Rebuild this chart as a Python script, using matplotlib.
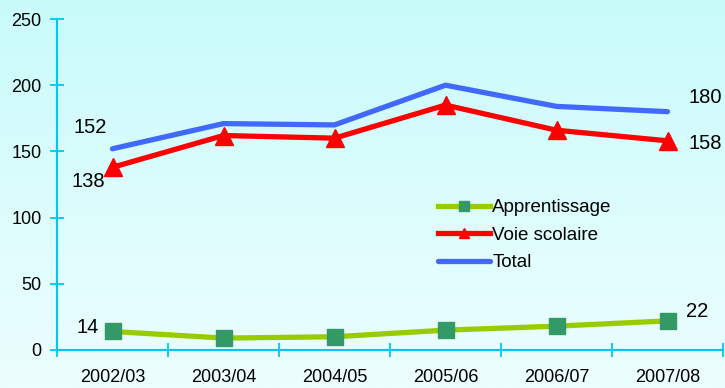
import numpy as np
import matplotlib.pyplot as plt
from matplotlib.colors import LinearSegmentedColormap

plt.rcParams['font.family'] = ['Liberation Sans', 'DejaVu Sans']

years = ['2002/03', '2003/04', '2004/05', '2005/06', '2006/07', '2007/08']
apprentissage = [14, 9, 10, 15, 18, 22]
voie_scolaire = [138, 162, 160, 185, 166, 158]
total = [152, 171, 170, 200, 184, 180]

axis_col = '#00c8f0'

fig = plt.figure(figsize=(7.25, 3.88), dpi=100)

# background gradient over whole figure
bg = fig.add_axes([0, 0, 1, 1], zorder=-10)
grad = LinearSegmentedColormap.from_list('bg', ['#c9fbfb', '#edfefe'])
bg.imshow(np.linspace(0, 1, 256).reshape(-1, 1), aspect='auto', cmap=grad,
          extent=[0, 1, 0, 1])
bg.set_axis_off()

ax = fig.add_axes([57 / 725, 38 / 388, 666 / 725, 331 / 388])
ax.patch.set_alpha(0)

x = np.arange(len(years))
ax.plot(x, total, color='#4169ff', lw=3.8, solid_capstyle='round', label='Total', zorder=3)
ax.plot(x, voie_scolaire, color='#ff0000', lw=3.8, marker='^', markersize=13,
        label='Voie scolaire', zorder=4)
ax.plot(x, apprentissage, color='#99cc00', lw=3.8, marker='s', markersize=11,
        markerfacecolor='#339966', markeredgecolor='#339966', label='Apprentissage', zorder=4)

ax.set_xlim(-0.5, 5.5)
ax.set_ylim(0, 250)
ax.set_yticks(range(0, 251, 50))
ax.set_xticks(np.arange(-0.5, 5.6, 1))
ax.set_xticklabels([])
ax.set_xticks(x, minor=True)
ax.set_xticklabels(years, minor=True, fontsize=13)
ax.tick_params(axis='x', which='minor', length=0, pad=14)
ax.tick_params(axis='x', which='major', direction='inout', length=10, color=axis_col, width=1.3)
ax.tick_params(axis='y', direction='inout', length=10, color=axis_col, width=1.3,
               labelsize=13, pad=6)

for s in ['top', 'right']:
    ax.spines[s].set_visible(False)
for s in ['left', 'bottom']:
    ax.spines[s].set_color(axis_col)
    ax.spines[s].set_linewidth(1.5)

fs = 14.5
ax.text(-0.2, 168, '152', fontsize=fs, ha='center', va='center')
ax.text(-0.22, 127, '138', fontsize=fs, ha='center', va='center')
ax.text(5.34, 191, '180', fontsize=fs, ha='center', va='center')
ax.text(5.34, 156, '158', fontsize=fs, ha='center', va='center')
ax.text(-0.22, 17, '14', fontsize=fs, ha='center', va='center')
ax.text(5.27, 29, '22', fontsize=fs, ha='center', va='center')

handles, labels = ax.get_legend_handles_labels()
leg = ax.legend(handles[::-1], labels[::-1], loc='center left',
                bbox_to_anchor=(0.572, 0.347), frameon=False, fontsize=13.5,
                handlelength=2.8, handletextpad=0.1, labelspacing=0.55,
                markerscale=0.6, borderpad=0, borderaxespad=0)

fig.savefig('out.png', dpi=100)
